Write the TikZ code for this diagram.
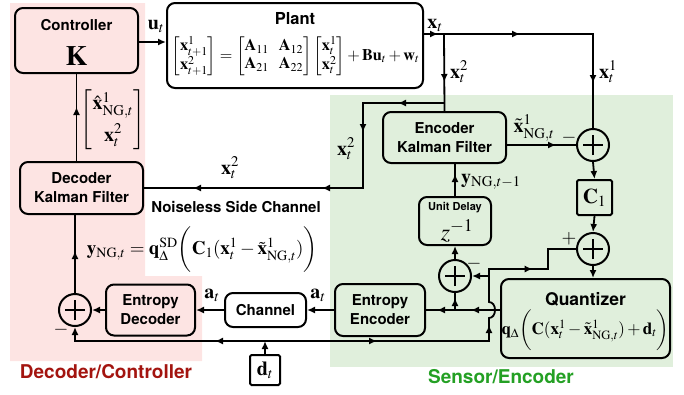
\documentclass[tikz,border=0pt]{standalone}
\usepackage{amsmath}
\usepackage{mathptmx}
\usepackage{fontspec}
\newfontfamily\hv{TeX Gyre Heros}
\usetikzlibrary{arrows.meta,decorations.markings}
\definecolor{pinkbg}{HTML}{FDE4E3}
\definecolor{greenbg}{HTML}{E0EFDC}
\definecolor{titlered}{HTML}{A3140F}
\definecolor{titlegreen}{HTML}{24A024}
\begin{document}
\begin{tikzpicture}[x=1pt,y=-1pt,line width=1.8pt,>={Latex[length=8pt,width=7pt]},
  box/.style={draw,line width=2pt,rounded corners=8pt,align=center,inner sep=0pt,font=\hv\bfseries\fontsize{15}{19}\selectfont},
  sq/.style={draw,line width=2pt,rounded corners=1.5pt,inner sep=0pt,font=\fontsize{21}{23}\selectfont},
  sumnode/.style={circle,draw,line width=2pt,minimum size=32pt,inner sep=0pt,
    path picture={\draw[line width=1.6pt] ([xshift=-10pt]path picture bounding box.center) -- ([xshift=10pt]path picture bounding box.center) ([yshift=-10pt]path picture bounding box.center) -- ([yshift=10pt]path picture bounding box.center);}},
  ma/.style={postaction={decorate,decoration={markings,mark=at position #1 with {\arrow{>}}}}},
  lbl/.style={inner sep=0pt,font=\fontsize{20}{22}\selectfont},
  sgn/.style={inner sep=0pt,font=\fontsize{19}{21}\selectfont},
  hvt/.style={inner sep=0pt,font=\hv\bfseries\fontsize{15}{17}\selectfont}
]
\useasboundingbox (0,0) rectangle (684,394);
\fill[pinkbg] (10,3) -- (145,3) -- (145,276) -- (202,276) -- (202,361) -- (10,361) -- cycle;
\fill[greenbg] (330,95) rectangle (673,367);

% blocks
\node[box,minimum width=123pt,minimum height=65pt] (ctrl) at (76.5,40.5) {};
\node[hvt] (ctrlT) at (76.5,25) {Controller};
\node[inner sep=0pt,font=\fontsize{28}{30}\selectfont] (ctrlK) at (76.5,56) {$\mathbf{K}$};

\node[box,minimum width=256pt,minimum height=85pt] (plant) at (295,45.5) {};
\node[hvt,font=\hv\bfseries\fontsize{16.5}{18}\selectfont] (plantT) at (295,19) {Plant};
\node[inner sep=0pt,font=\fontsize{16.2}{18}\selectfont] (plantEq) at (295.5,56) {$\begin{bmatrix}\mathbf{x}^1_{t+1}\\ \mathbf{x}^2_{t+1}\end{bmatrix} = \begin{bmatrix}\mathbf{A}_{11} & \mathbf{A}_{12}\\ \mathbf{A}_{21} & \mathbf{A}_{22}\end{bmatrix} \begin{bmatrix}\mathbf{x}^1_{t}\\ \mathbf{x}^2_{t}\end{bmatrix} + \mathbf{B}\mathbf{u}_t + \mathbf{w}_t$};

\node[box,minimum width=123pt,minimum height=51pt] (enckf) at (444.5,137.5) {Encoder\\Kalman Filter};
\node[box,minimum width=72pt,minimum height=48pt] (delay) at (455,221) {};
\node[hvt,font=\hv\bfseries\fontsize{11}{13}\selectfont] (delayT) at (455,208) {Unit Delay};
\node[inner sep=0pt,font=\fontsize{24}{26}\selectfont] (delayZ) at (457,231) {$z^{-1}$};
\node[sq,minimum size=35pt] (c1) at (594.5,197.5) {$\mathbf{C}_1$};
\node[box,minimum width=169pt,minimum height=79pt] (quant) at (585.5,318.5) {};
\node[hvt,font=\hv\bfseries\fontsize{17.5}{19}\selectfont] (quantT) at (585.5,299) {Quantizer};
\node[inner sep=0pt,font=\fontsize{17}{19}\selectfont] (quantEq) at (585.5,330) {$\mathbf{q}_{\boldsymbol{\Delta}}\bigg(\mathbf{C}(\mathbf{x}^1_t-\tilde{\mathbf{x}}^1_{\mathrm{NG},t})+\mathbf{d}_t\bigg)$};
\node[box,minimum width=90pt,minimum height=52pt] (entenc) at (380,310) {Entropy\\Encoder};
\node[box,minimum width=81pt,minimum height=34pt] (chan) at (265.5,310) {Channel};
\node[box,minimum width=89pt,minimum height=51pt] (entdec) at (150.5,310) {Entropy\\Decoder};
\node[box,minimum width=123pt,minimum height=52pt] (deckf) at (81.5,188) {Decoder\\Kalman Filter};
\node[sq,minimum size=30pt,font=\fontsize{20}{22}\selectfont] (dt) at (265,370) {$\mathbf{d}_t$};

\node[sumnode] (s1) at (593,145) {};
\node[sumnode] (s2) at (593,249) {};
\node[sumnode] (s3) at (455,276) {};
\node[sumnode] (s4) at (75,310) {};

% junctions
\coordinate (yu) at (0,42);
\coordinate (yx) at (0,34);
\coordinate (jx) at (444,34);
\coordinate (jr) at (593,34);
\coordinate (j2) at (444,103);
\coordinate (c2a) at (363,103);
\coordinate (c2b) at (363,188);
\coordinate (jq) at (455,310);
\coordinate (dj0) at (265,341);
\coordinate (dl) at (75,341);
\coordinate (dr) at (489,341);
\coordinate (hb) at (489,318);
\coordinate (ht) at (489,302);
\coordinate (dj) at (489,276);
\coordinate (du) at (489,269);
\coordinate (dv) at (548,269);
\coordinate (dw) at (548,249);

% connectors
\draw[->] (ctrl.east |- yu) -- (plant.west |- yu);
\draw[ma=14pt,ma=96pt,ma=218pt] (plant.east |- yx) -- (jx) -- (jr) -- (s1.north);
\draw[ma=48pt] (jx) -- (enckf.north);
\draw[ma=46pt,ma=110pt,ma=207pt,ma=336pt] (j2) -- (c2a) -- (c2b) -- (deckf.east);
\draw[ma=49pt] (enckf.east |- s1) -- (s1.west);
\draw[->] (s1.south) -- (c1.north);
\draw[->] (c1.south) -- (s2.north);
\draw[->] (s2.south) -- (s2.south |- quant.north);
\draw[ma=29pt,ma=63pt] (quant.west |- jq) -- (entenc.east);
\draw[ma=12pt] (jq) -- (s3.south);
\draw[->] (s3.north) -- (delay.south);
\draw[ma=22pt] (delay.north) -- (delay.north |- enckf.south);
\draw[->] (entenc.west) -- (chan.east);
\draw[->] (chan.west) -- (entdec.east);
\draw[->] (entdec.west) -- (s4.east);
\draw[->] (dt.north) -- (dj0);
\draw[ma=50pt,->] (dj0) -- (dl) -- (s4.south);
\draw[ma=112pt,ma=240pt,ma=346pt] (dj0) -- (dr) -- (hb) .. controls (497,318) and (497,302) .. (ht) -- (du) -- (dv) -- (dw) -- (s2.west);
\draw[->] (dj) -- (s3.east);
\draw[ma=42pt] (s4.north) -- (s4.north |- deckf.south);
\draw[ma=54pt] (deckf.north -| ctrl.south) -- (ctrl.south);

% labels
\node[lbl] (lu) at (156,26) {$\mathbf{u}_t$};
\node[lbl] (lx) at (435,25) {$\mathbf{x}_t$};
\node[lbl] (lx2a) at (459,72) {$\mathbf{x}^2_t$};
\node[lbl] (lx1) at (608,72) {$\mathbf{x}^1_t$};
\node[lbl] (lx2b) at (346,149) {$\mathbf{x}^2_t$};
\node[lbl] (lx2c) at (230,168) {$\mathbf{x}^2_t$};
\node[hvt] (lnsc) at (236,207) {Noiseless Side Channel};
\node[lbl] (lxt) at (534,128) {$\tilde{\mathbf{x}}^1_{\mathrm{NG},t}$};
\node[sgn] (m1) at (569,138) {$-$};
\node[lbl] (ly1) at (491,182) {$\mathbf{y}_{\mathrm{NG},t-1}$};
\node[sgn] (p2) at (569,239) {$+$};
\node[sgn] (m3) at (474,264) {$-$};
\node[lbl] (la1) at (318,295) {$\mathbf{a}_t$};
\node[lbl] (la2) at (212,295) {$\mathbf{a}_t$};
\node[sgn] (m4) at (61,330) {$-$};
\node[lbl,anchor=west,font=\fontsize{19}{21}\selectfont] (lyeq) at (86,250) {$\mathbf{y}_{\mathrm{NG},t} = \mathbf{q}^{\mathrm{SD}}_{\boldsymbol{\Delta}}\bigg(\mathbf{C}_1(\mathbf{x}^1_t-\tilde{\mathbf{x}}^1_{\mathrm{NG},t})\bigg)$};
\node[lbl] (lvec) at (113,120) {$\begin{bmatrix}\hat{\mathbf{x}}^1_{\mathrm{NG},t}\\[8pt] \mathbf{x}^2_t\end{bmatrix}$};
\node[hvt,font=\hv\bfseries\fontsize{19}{21}\selectfont,text=titlered] (tdc) at (106,372) {Decoder/Controller};
\node[hvt,font=\hv\bfseries\fontsize{19}{21}\selectfont,text=titlegreen] (tse) at (501,377) {Sensor/Encoder};
\end{tikzpicture}
\end{document}
